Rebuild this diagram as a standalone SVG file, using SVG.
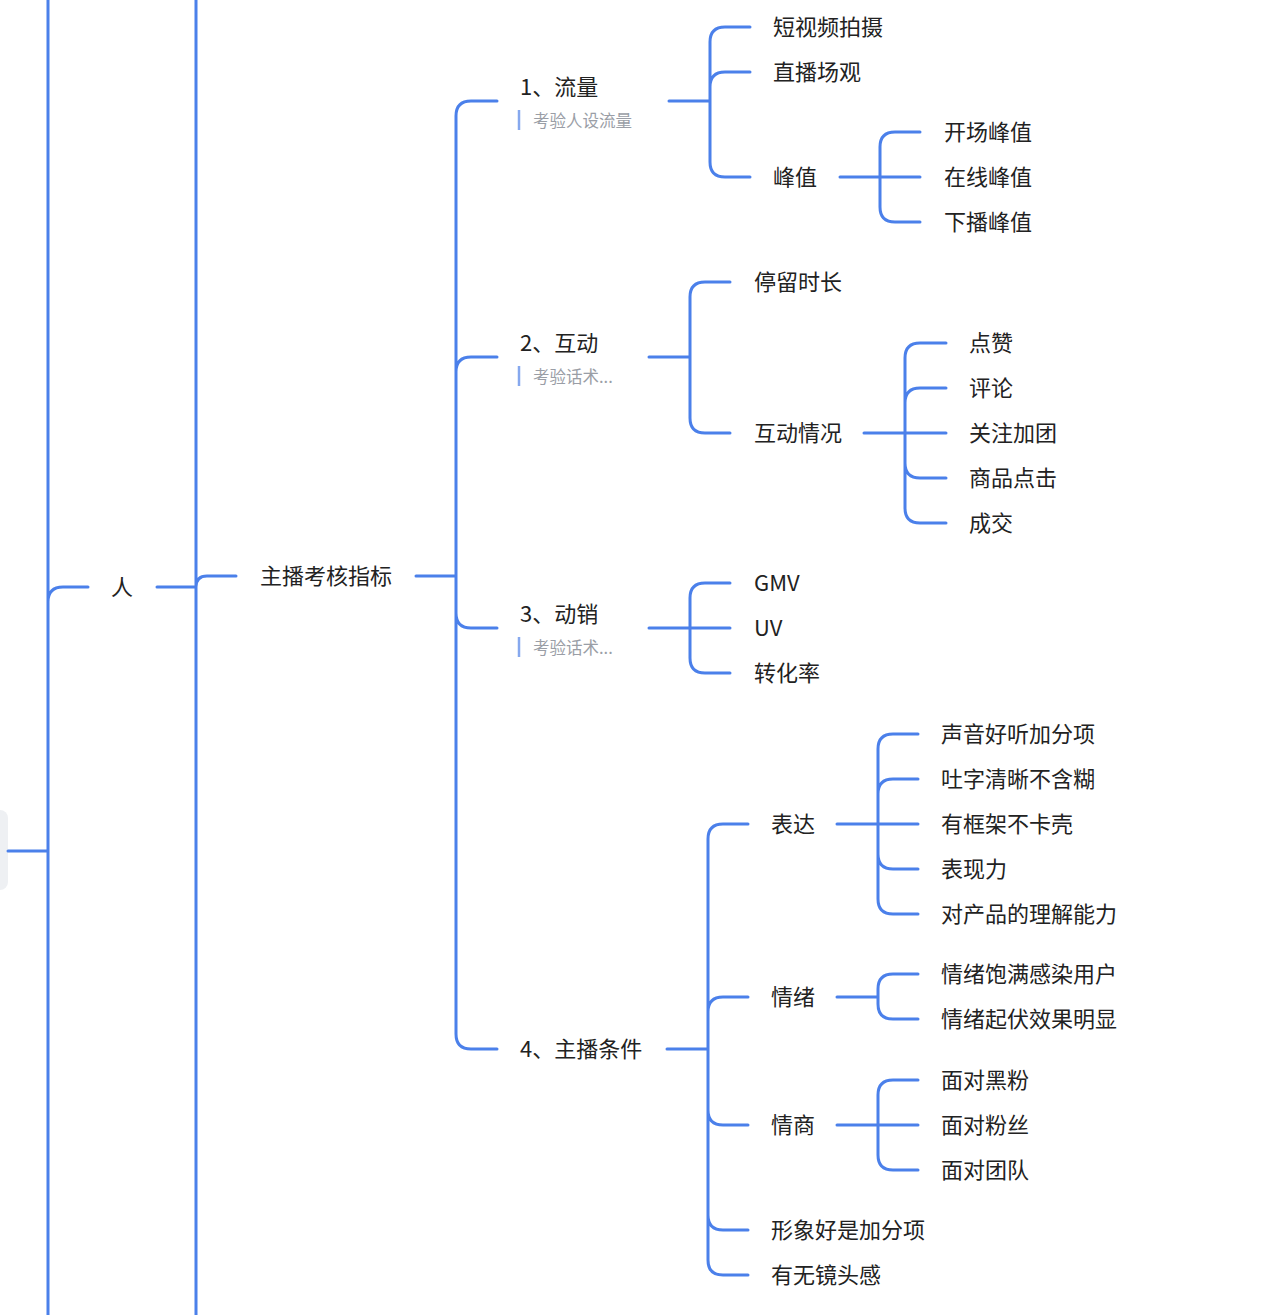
<svg xmlns="http://www.w3.org/2000/svg" width="1280" height="1315" viewBox="0 0 1280 1315">
<style>
.c{fill:none;stroke:#4b80ea;stroke-width:3;stroke-linecap:round}
.t{font-family:"Noto Sans CJK SC","Noto Sans",sans-serif;font-size:22px;fill:#222;dominant-baseline:central}
.s{font-family:"Noto Sans CJK SC","Noto Sans",sans-serif;font-size:16.5px;fill:#9a9ea6;dominant-baseline:central}
.b{stroke:#86a8ee;stroke-width:2.5}
</style>
<rect x="0" y="0" width="1280" height="1315" fill="#fff"/>
<rect x="-12" y="810" width="20" height="80" rx="8" fill="#eef0f3"/>
<g id="connectors">
<path class="c" d="M48 0V1315M8 851H48M48 851V602Q48 587 63 587H88"/>
<path class="c" d="M157 587H196M196 0V1315M196 587Q196 576 207 576H236"/>
<path class="c" d="M416 576H456M456 576V116Q456 101 471 101H497M456 576V372Q456 357 471 357H497M456 576V613Q456 628 471 628H497M456 576V1034Q456 1049 471 1049H497"/>
<path class="c" d="M669 101H710M710 101V42Q710 27 725 27H750M710 101V87Q710 72 725 72H750M710 101V162Q710 177 725 177H750"/>
<path class="c" d="M840 177H920M880 177V147Q880 132 895 132H920M880 177V207Q880 222 895 222H920"/>
<path class="c" d="M649 357H690M690 357V297Q690 282 705 282H730M690 357V418Q690 433 705 433H730"/>
<path class="c" d="M864 433H946M905 433V358Q905 343 920 343H946M905 433V403Q905 388 920 388H946M905 433V463Q905 478 920 478H946M905 433V508Q905 523 920 523H946"/>
<path class="c" d="M649 628H730M690 628V598Q690 583 705 583H730M690 628V658Q690 673 705 673H730"/>
<path class="c" d="M667 1049H708M708 1049V839Q708 824 723 824H748M708 1049V1012Q708 997 723 997H748M708 1049V1110Q708 1125 723 1125H748M708 1049V1215Q708 1230 723 1230H748M708 1049V1260Q708 1275 723 1275H748"/>
<path class="c" d="M837 824H918M878 824V749Q878 734 893 734H918M878 824V794Q878 779 893 779H918M878 824V854Q878 869 893 869H918M878 824V899Q878 914 893 914H918"/>
<path class="c" d="M837 997H878M878 997V989Q878 974 893 974H918M878 997V1004Q878 1019 893 1019H918"/>
<path class="c" d="M837 1125H918M878 1125V1095Q878 1080 893 1080H918M878 1125V1155Q878 1170 893 1170H918"/>
</g>
<g transform="translate(0,-2)">
<g id="n-ren"><text class="t" x="122" y="587" text-anchor="middle">人</text></g>
<g id="n-root"><text class="t" x="260" y="576">主播考核指标</text></g>
<g id="n-liuliang"><text class="t" x="520" y="87">1、流量</text><line class="b" x1="519" y1="112" x2="519" y2="132"/><text class="s" x="533" y="122">考验人设流量</text></g>
<g id="n-hudong"><text class="t" x="520" y="343">2、互动</text><line class="b" x1="519" y1="368" x2="519" y2="388"/><text class="s" x="533" y="378">考验话术...</text></g>
<g id="n-dongxiao"><text class="t" x="520" y="614">3、动销</text><line class="b" x1="519" y1="639" x2="519" y2="659"/><text class="s" x="533" y="649">考验话术...</text></g>
<g id="n-tiaojian"><text class="t" x="520" y="1049">4、主播条件</text></g>
<g id="n-1a"><text class="t" x="773" y="27">短视频拍摄</text></g>
<g id="n-1b"><text class="t" x="773" y="72">直播场观</text></g>
<g id="n-1c"><text class="t" x="773" y="177">峰值</text></g>
<g id="n-1c1"><text class="t" x="944" y="132">开场峰值</text></g>
<g id="n-1c2"><text class="t" x="944" y="177">在线峰值</text></g>
<g id="n-1c3"><text class="t" x="944" y="222">下播峰值</text></g>
<g id="n-2a"><text class="t" x="754" y="282">停留时长</text></g>
<g id="n-2b"><text class="t" x="754" y="433">互动情况</text></g>
<g id="n-2b1"><text class="t" x="969" y="343">点赞</text></g>
<g id="n-2b2"><text class="t" x="969" y="388">评论</text></g>
<g id="n-2b3"><text class="t" x="969" y="433">关注加团</text></g>
<g id="n-2b4"><text class="t" x="969" y="478">商品点击</text></g>
<g id="n-2b5"><text class="t" x="969" y="523">成交</text></g>
<g id="n-3a"><text class="t" x="754" y="583">GMV</text></g>
<g id="n-3b"><text class="t" x="754" y="628">UV</text></g>
<g id="n-3c"><text class="t" x="754" y="673">转化率</text></g>
<g id="n-4a"><text class="t" x="771" y="824">表达</text></g>
<g id="n-4a1"><text class="t" x="941" y="734">声音好听加分项</text></g>
<g id="n-4a2"><text class="t" x="941" y="779">吐字清晰不含糊</text></g>
<g id="n-4a3"><text class="t" x="941" y="824">有框架不卡壳</text></g>
<g id="n-4a4"><text class="t" x="941" y="869">表现力</text></g>
<g id="n-4a5"><text class="t" x="941" y="914">对产品的理解能力</text></g>
<g id="n-4b"><text class="t" x="771" y="997">情绪</text></g>
<g id="n-4b1"><text class="t" x="941" y="974">情绪饱满感染用户</text></g>
<g id="n-4b2"><text class="t" x="941" y="1019">情绪起伏效果明显</text></g>
<g id="n-4c"><text class="t" x="771" y="1125">情商</text></g>
<g id="n-4c1"><text class="t" x="941" y="1080">面对黑粉</text></g>
<g id="n-4c2"><text class="t" x="941" y="1125">面对粉丝</text></g>
<g id="n-4c3"><text class="t" x="941" y="1170">面对团队</text></g>
<g id="n-4d"><text class="t" x="771" y="1230">形象好是加分项</text></g>
<g id="n-4e"><text class="t" x="771" y="1275">有无镜头感</text></g>
</g>
</svg>
